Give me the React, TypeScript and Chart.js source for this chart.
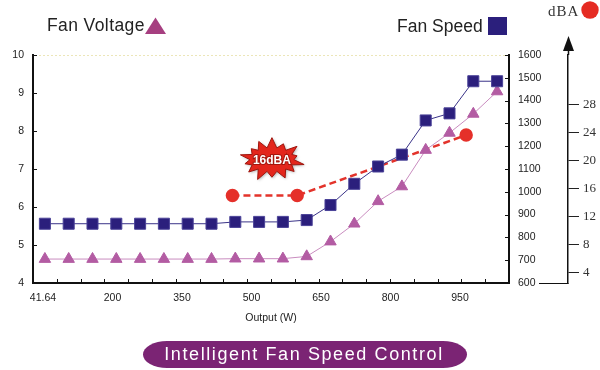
import React, { useEffect, useRef } from 'react';
import { Chart, registerables } from 'chart.js';

Chart.register(...registerables);

// ---- data ----
const outputs = ['41.64', '100', '150', '200', '250', '300', '350', '400', '450', '500', '550', '600', '650', '700', '750', '800', '850', '900', '950', '1000'];
const fanVoltage = [4.63, 4.63, 4.63, 4.63, 4.63, 4.63, 4.63, 4.63, 4.64, 4.64, 4.64, 4.7, 5.09, 5.56, 6.15, 6.54, 7.5, 7.95, 8.45, 9.04];
const fanSpeed = [860, 860, 860, 860, 860, 860, 860, 860, 868, 868, 868, 876, 942, 1035, 1111, 1163, 1313, 1344, 1485, 1485];
const noiseOutput = [444, 580, 935];
const noiseDBA = [15, 15, 23.6];
const xTickLabels = ['41.64', '200', '350', '500', '650', '800', '950'];
const voltageTicks = [4, 5, 6, 7, 8, 9, 10];
const speedTicks = [600, 700, 800, 900, 1000, 1100, 1200, 1300, 1400, 1500, 1600];
const dbaTicks = [4, 8, 12, 16, 20, 24, 28];
const starLabel = { text: '16dBA', output: 527, dba: 20.1 };

const SANS = '"Liberation Sans", Arial, sans-serif';
const SERIF = '"Liberation Serif", "Times New Roman", serif';

const decor = {
  id: 'decor',
  afterDraw(chart: any) {
    const ctx = chart.ctx as CanvasRenderingContext2D;
    const { left, right, top, bottom } = chart.chartArea;
    const sx = chart.scales.x;
    const sy = chart.scales.y;
    const sy2 = chart.scales.y2;
    const sy3 = chart.scales.y3;
    const sxw = chart.scales.xw;
    ctx.save();

    // faint top dotted line
    ctx.strokeStyle = '#ece6b8';
    ctx.lineWidth = 1;
    ctx.setLineDash([2, 2]);
    ctx.beginPath();
    ctx.moveTo(left + 2, top + 0.5);
    ctx.lineTo(right - 2, top + 0.5);
    ctx.stroke();
    ctx.setLineDash([]);

    // inward ticks
    ctx.strokeStyle = '#111';
    ctx.lineWidth = 1;
    ctx.beginPath();
    sy.ticks.forEach((t: any) => {
      const p = Math.round(sy.getPixelForValue(t.value)) + 0.5;
      ctx.moveTo(left, p);
      ctx.lineTo(left + 4, p);
    });
    sy2.ticks.forEach((t: any) => {
      const p = Math.round(sy2.getPixelForValue(t.value)) + 0.5;
      ctx.moveTo(right, p);
      ctx.lineTo(right - 4, p);
    });
    const step = outputs.length > 1 ? sx.getPixelForValue(1) - sx.getPixelForValue(0) : 0;
    for (let i = 1; i < outputs.length; i++) {
      const p = Math.round(sx.getPixelForValue(i) - step / 2) + 0.5;
      ctx.moveTo(p, bottom);
      ctx.lineTo(p, bottom - 4);
    }
    ctx.stroke();

    // dBA axis extension + arrow
    const ax = Math.round(sy3.left) + 0.5;
    ctx.strokeStyle = '#111';
    ctx.lineWidth = 1.5;
    ctx.beginPath();
    ctx.moveTo(ax, top);
    ctx.lineTo(ax, 49);
    ctx.stroke();
    ctx.fillStyle = '#111';
    ctx.beginPath();
    ctx.moveTo(ax, 36);
    ctx.lineTo(ax - 5.5, 51);
    ctx.lineTo(ax + 5.5, 51);
    ctx.closePath();
    ctx.fill();
    // connector at the base
    ctx.lineWidth = 1;
    ctx.beginPath();
    ctx.moveTo(539, Math.round(bottom) + 0.5);
    ctx.lineTo(ax, Math.round(bottom) + 0.5);
    ctx.stroke();

    // headers
    ctx.fillStyle = '#222';
    ctx.font = `17.5px ${SANS}`;
    ctx.textBaseline = 'alphabetic';
    ctx.textAlign = 'left';
    (ctx as any).letterSpacing = '0.4px';
    ctx.fillText('Fan Voltage', 47, 31);
    (ctx as any).letterSpacing = '0px';
    ctx.fillStyle = '#a63f80';
    ctx.beginPath();
    ctx.moveTo(155.5, 17.5);
    ctx.lineTo(145, 34);
    ctx.lineTo(166, 34);
    ctx.closePath();
    ctx.fill();

    ctx.fillStyle = '#222';
    ctx.fillText('Fan Speed', 397, 32);
    ctx.fillStyle = '#2b1f7c';
    ctx.fillRect(488, 17, 19, 18);

    ctx.fillStyle = '#333';
    ctx.font = `15px ${SERIF}`;
    (ctx as any).letterSpacing = '1px';
    ctx.fillText('dBA', 548, 16);
    (ctx as any).letterSpacing = '0px';
    ctx.fillStyle = '#e52b22';
    ctx.beginPath();
    ctx.arc(590, 10, 8.7, 0, Math.PI * 2);
    ctx.fill();

    // starburst annotation
    const cx = sxw.getPixelForValue(starLabel.output);
    const cy = sy3.getPixelForValue(starLabel.dba);
    const spikes = [1, 0.8, 0.97, 0.78, 1, 0.86, 0.92, 0.8, 1, 0.9, 0.84, 0.98, 0.8, 0.92];
    const n = spikes.length;
    ctx.beginPath();
    for (let i = 0; i < n; i++) {
      const a0 = (i / n) * Math.PI * 2 - Math.PI / 2;
      const a1 = ((i + 0.5) / n) * Math.PI * 2 - Math.PI / 2;
      const ox = cx + Math.cos(a0) * 33 * spikes[i];
      const oy = cy + Math.sin(a0) * 22 * spikes[i];
      const ix = cx + Math.cos(a1) * 22;
      const iy = cy + Math.sin(a1) * 12;
      if (i === 0) ctx.moveTo(ox, oy); else ctx.lineTo(ox, oy);
      ctx.lineTo(ix, iy);
    }
    ctx.closePath();
    ctx.shadowColor = 'rgba(0,0,0,0.35)';
    ctx.shadowBlur = 3;
    ctx.shadowOffsetX = 1;
    ctx.shadowOffsetY = 1;
    ctx.fillStyle = '#e3261c';
    ctx.fill();
    ctx.shadowColor = 'transparent';
    ctx.strokeStyle = '#9e150d';
    ctx.lineWidth = 1;
    ctx.stroke();
    ctx.font = `bold 12px ${SANS}`;
    ctx.textAlign = 'center';
    ctx.textBaseline = 'middle';
    ctx.lineWidth = 2;
    ctx.strokeStyle = '#a3170e';
    ctx.strokeText(starLabel.text, cx, cy + 1);
    ctx.fillStyle = '#fff';
    ctx.fillText(starLabel.text, cx, cy + 1);

    // bottom pill
    const px = 143, py = 341, pw = 324, ph = 27, rx = 24;
    ctx.beginPath();
    ctx.moveTo(px + rx, py);
    ctx.lineTo(px + pw - rx, py);
    ctx.ellipse(px + pw - rx, py + ph / 2, rx, ph / 2, 0, -Math.PI / 2, Math.PI / 2);
    ctx.lineTo(px + rx, py + ph);
    ctx.ellipse(px + rx, py + ph / 2, rx, ph / 2, 0, Math.PI / 2, Math.PI * 1.5);
    ctx.closePath();
    ctx.fillStyle = '#7b2474';
    ctx.fill();
    ctx.fillStyle = '#fff';
    ctx.font = `18px ${SANS}`;
    (ctx as any).letterSpacing = '1.6px';
    ctx.textAlign = 'center';
    ctx.textBaseline = 'alphabetic';
    ctx.fillText('Intelligent Fan Speed Control', 304, 360);
    (ctx as any).letterSpacing = '0px';

    ctx.restore();
  },
};

export default function App() {
  const ref = useRef<HTMLCanvasElement | null>(null);

  useEffect(() => {
    if (!ref.current) return;
    const tickFont = { family: SANS, size: 10.5 };
    const plain = (v: any) => String(v);
    const chart = new Chart(ref.current, {
      type: 'line',
      data: {
        labels: outputs,
        datasets: [
          {
            label: 'Fan Speed',
            data: fanSpeed,
            xAxisID: 'x',
            yAxisID: 'y2',
            borderColor: '#3a3388',
            borderWidth: 1,
            pointStyle: 'rect',
            pointRadius: 7.8,
            pointBackgroundColor: '#2b1f7c',
            pointBorderColor: '#4b4398',
            pointBorderWidth: 1,
            tension: 0,
          } as any,
          {
            label: 'Fan Voltage',
            data: fanVoltage,
            xAxisID: 'x',
            yAxisID: 'y',
            borderColor: '#c98cbf',
            borderWidth: 1,
            pointStyle: 'triangle',
            pointRadius: 6.6,
            pointBackgroundColor: '#b35ca3',
            pointBorderColor: '#b35ca3',
            pointBorderWidth: 1,
            tension: 0,
          },
          {
            label: 'dBA',
            data: noiseOutput.map((o, i) => ({ x: o, y: noiseDBA[i] })),
            xAxisID: 'xw',
            yAxisID: 'y3',
            borderColor: '#e3332b',
            borderWidth: 2.5,
            borderDash: [7, 4],
            pointStyle: 'circle',
            pointRadius: 5.5,
            pointBackgroundColor: '#e5302a',
            pointBorderColor: '#e5302a',
            tension: 0,
          },
        ],
      },
      options: {
        responsive: false,
        animation: false,
        layout: { padding: { left: 0, right: 0, top: 55, bottom: 0 } },
        plugins: { legend: { display: false }, tooltip: { enabled: false } },
        scales: {
          x: { type: 'category', display: false, offset: true },
          xw: { type: 'linear', display: false, min: 25, max: 1025 },
          xl: {
            type: 'linear',
            position: 'bottom',
            min: -0.144,
            max: 6.705,
            afterBuildTicks: (s: any) => { s.ticks = xTickLabels.map((_, i) => ({ value: i })); },
            afterFit: (s: any) => { s.height = 87; },
            grid: { display: false, drawTicks: false },
            border: { display: true, color: '#111', width: 2 },
            ticks: {
              callback: (v: any) => xTickLabels[v] ?? '',
              padding: 9,
              font: tickFont,
              color: '#222',
              maxRotation: 0,
              autoSkip: false,
            },
            title: {
              display: true,
              text: 'Output (W)',
              font: tickFont,
              color: '#222',
              padding: { top: 0, bottom: 46 },
            },
          },
          y: {
            position: 'left',
            min: 4,
            max: 10,
            afterBuildTicks: (s: any) => { s.ticks = voltageTicks.map((v) => ({ value: v })); },
            afterFit: (s: any) => { s.width = 33; },
            grid: { display: false, drawTicks: false },
            border: { display: true, color: '#111', width: 2 },
            ticks: { padding: 9, font: tickFont, color: '#222', callback: plain },
          },
          y2: {
            position: 'right',
            min: 600,
            max: 1600,
            weight: 0,
            afterBuildTicks: (s: any) => { s.ticks = speedTicks.map((v) => ({ value: v })); },
            afterFit: (s: any) => { s.width = 59; },
            grid: { display: false, drawTicks: false },
            border: { display: true, color: '#111', width: 2 },
            ticks: { padding: 9, font: tickFont, color: '#222', callback: plain },
          },
          y3: {
            position: 'right',
            min: 2.54,
            max: 35,
            weight: 1,
            afterBuildTicks: (s: any) => { s.ticks = dbaTicks.map((v) => ({ value: v })); },
            afterFit: (s: any) => { s.width = 32; },
            grid: { display: true, drawOnChartArea: false, drawTicks: true, tickLength: 11, color: '#222', lineWidth: 1 },
            border: { display: true, color: '#111', width: 1.5 },
            ticks: { padding: 4, font: { family: SERIF, size: 13 }, color: '#333', callback: plain },
          },
        } as any,
      },
      plugins: [decor],
    });
    return () => chart.destroy();
  }, []);

  return (
    <div style={{ position: 'absolute', left: 0, top: 0, width: 600, height: 370, background: '#fff' }}>
      <canvas ref={ref} width={600} height={370} style={{ display: 'block', width: 600, height: 370 }} />
    </div>
  );
}
